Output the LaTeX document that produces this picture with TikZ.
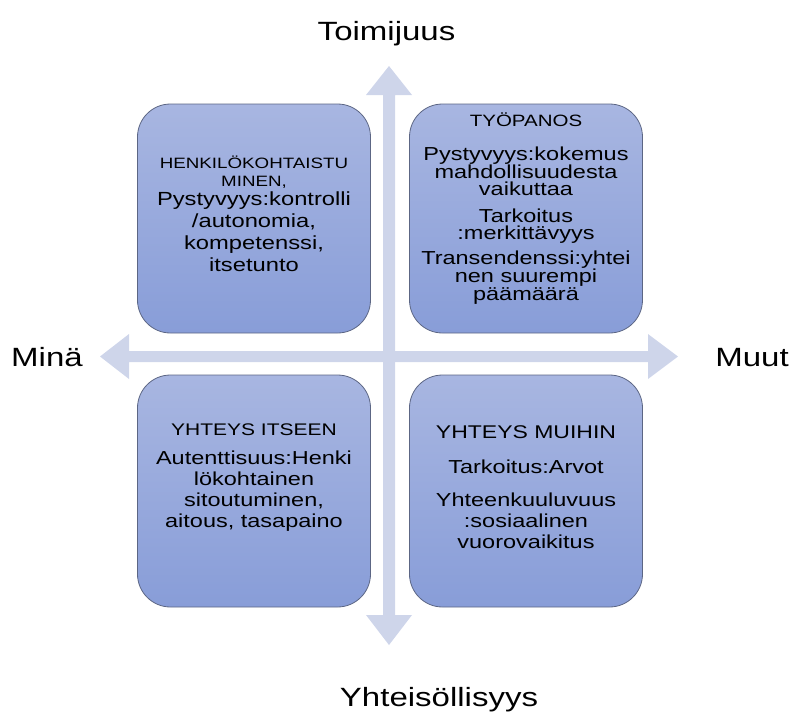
\documentclass[tikz,border=0pt]{standalone}
\usepackage{fontspec}
\setmainfont{Liberation Sans}[FakeStretch=1.25]
\definecolor{axisfill}{RGB}{206,213,234}
\definecolor{boxtop}{RGB}{168,182,225}
\definecolor{boxbot}{RGB}{136,157,216}
\definecolor{boxline}{RGB}{92,102,132}
\begin{document}
\begin{tikzpicture}[x=1pt,y=-1pt,
  quad/.style={draw=boxline, line width=0.8pt, rounded corners=33pt,
    top color=boxtop, bottom color=boxbot, inner sep=0pt,
    minimum width=233pt},
  % text nodes are placed by the baseline of their last line
  txt/.style={align=center, inner sep=0pt, anchor=base, text=black},
  title/.style={txt, font=\fontsize{16.4}{18}\selectfont},
  body/.style={txt, font=\fontsize{18.8}{21}\selectfont},
  tight/.style={txt, font=\fontsize{18.8}{16.7}\selectfont},
  axislabel/.style={txt, font=\fontsize{26.4}{30}\selectfont}]
\useasboundingbox (0,0) rectangle (790,718);

% axis cross
\coordinate (c) at (389,356.5);
\fill[axisfill] (389,66) -- (412,95) -- (395,95) -- (395,615) -- (412,615)
  -- (389,645) -- (366,615) -- (383,615) -- (383,95) -- (366,95) -- cycle;
\fill[axisfill] (100,356.5) -- (129,334) -- (129,351) -- (648,351) -- (648,334)
  -- (678,356.5) -- (648,379) -- (648,362) -- (129,362) -- (129,379) -- cycle;

% quadrants
\node[quad, minimum height=229pt] (tl) at (254,218.5) {};
\node[quad, minimum height=229pt] (tr) at (526,218.5) {};
\node[quad, minimum height=232pt] (bl) at (254,491) {};
\node[quad, minimum height=232pt] (br) at (526,491) {};

% top left
\node[title, font=\fontsize{15}{18}\selectfont] (tlA) at (254,186) {HENKILÖKOHTAISTU\\MINEN,};
\node[body, font=\fontsize{19}{22}\selectfont] (tlB) at (254,271) {Pystyvyys:kontrolli\\/autonomia,\\kompetenssi,\\itsetunto};

% top right
\node[title] (trA) at (526,126) {TYÖPANOS};
\node[tight] (trB) at (526,195.4) {Pystyvyys:kokemus\\mahdollisuudesta\\vaikuttaa};
\node[tight] (trC) at (526,239.2) {Tarkoitus\\:merkittävyys};
\node[tight] (trD) at (526,300.4) {Transendenssi:yhtei\\nen suurempi\\päämäärä};

% bottom left
\node[title, font=\fontsize{16.8}{18}\selectfont] (blA) at (254,435) {YHTEYS ITSEEN};
\node[body] (blB) at (254,527) {Autenttisuus:Henki\\lökohtainen\\sitoutuminen,\\aitous, tasapaino};

% bottom right
\node[title, font=\fontsize{18.4}{20}\selectfont] (brA) at (526,438) {YHTEYS MUIHIN};
\node[body] (brB) at (526,473) {Tarkoitus:Arvot};
\node[body, font=\fontsize{18.8}{20.7}\selectfont] (brC) at (526,548) {Yhteenkuuluvuus\\:sosiaalinen\\vuorovaikitus};

% axis labels
\node[axislabel] (top) at (386.5,40) {Toimijuus};
\node[axislabel] (bottom) at (439,706.5) {Yhteisöllisyys};
\node[axislabel] (left) at (47,366) {Minä};
\node[axislabel] (right) at (752,366) {Muut};
\end{tikzpicture}
\end{document}
